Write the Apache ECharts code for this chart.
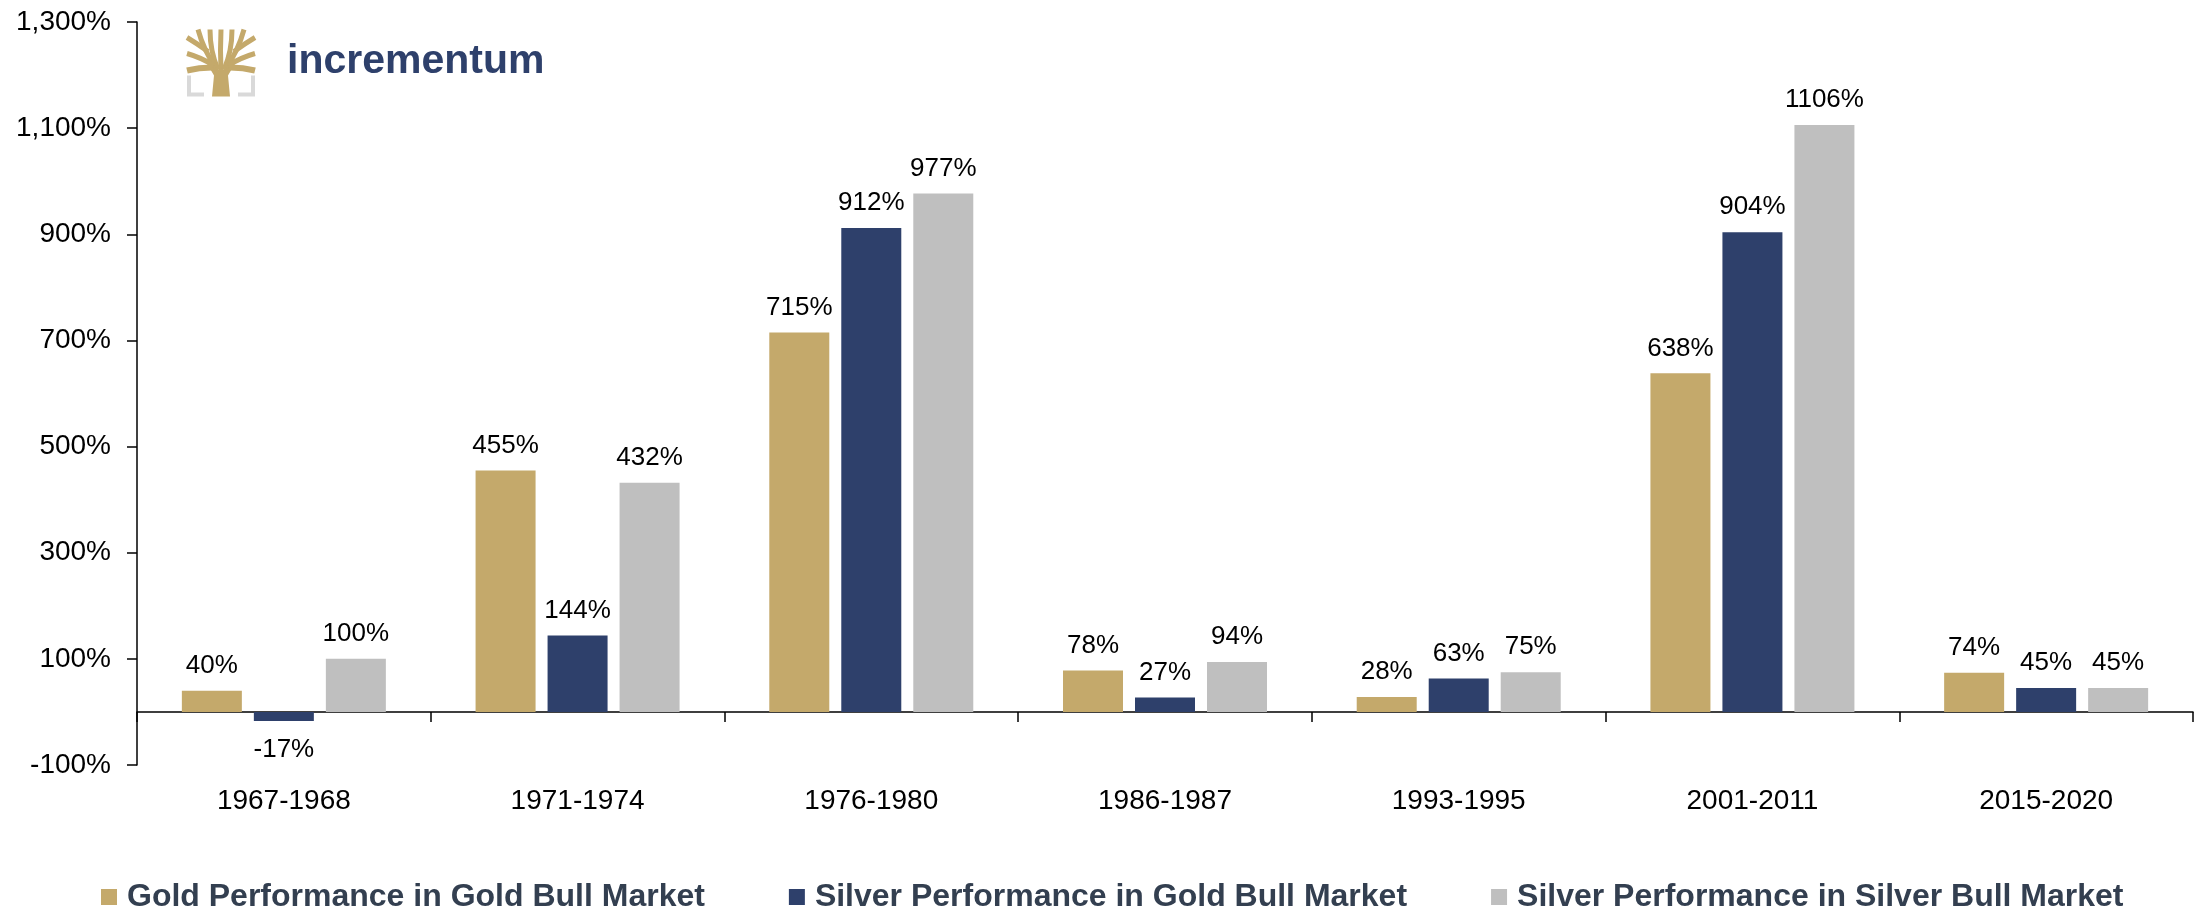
<!DOCTYPE html>
<html>
<head>
<meta charset="utf-8">
<title>Gold and silver bull markets</title>
<script src="https://cdn.jsdelivr.net/npm/echarts@6/dist/echarts.min.js"></script>
<style>
  html, body { margin: 0; padding: 0; background: #fff; }
  #chart { width: 2203px; height: 915px; }
</style>
</head>
<body>
<div id="chart"></div>
<script>
// periods of the bull markets
var periods = ['1967-1968', '1971-1974', '1976-1980', '1986-1987', '1993-1995', '2001-2011', '2015-2020']
// performance in percent
var goldInGoldBull = [40, 455, 715, 78, 28, 638, 74]
var silverInGoldBull = [-17, 144, 912, 27, 63, 904, 45]
var silverInSilverBull = [100, 432, 977, 94, 75, 1106, 45]
var seriesNames = ['Gold Performance in Gold Bull Market', 'Silver Performance in Gold Bull Market', 'Silver Performance in Silver Bull Market']
var colors = ['#C4A96B', '#2E406B', '#BFBFBF']

var font = "'Liberation Sans', Arial, sans-serif"

// negative bars get their label underneath
function toData (arr) {
  return arr.map(function (v) {
    return {
      value: v,
      label: v < 0 ? { position: 'bottom', distance: 16 } : { position: 'top', distance: 12 }
    }
  })
}

function makeSeries (name, arr, color) {
  return {
    name: name,
    type: 'bar',
    barWidth: 60,
    barGap: '20%',
    data: toData(arr),
    itemStyle: { color: color },
    label: {
      show: true,
      formatter: '{c}%',
      fontFamily: font,
      fontSize: 26,
      color: '#000'
    }
  }
}

var gold = '#C4A96B'
var grey = '#D9D9D9'

// incrementum logo (tree + text), drawn roughly
var logo = {
  type: 'group',
  left: 184,
  top: 27,
  children: [
    // grey brackets
    { type: 'polyline', shape: { points: [[2, 46], [2, 65], [17, 65]] }, style: { stroke: grey, lineWidth: 4, fill: null } },
    { type: 'polyline', shape: { points: [[66, 46], [66, 65], [51, 65]] }, style: { stroke: grey, lineWidth: 4, fill: null } },
    // trunk
    { type: 'polygon', shape: { points: [[25, 67], [27, 46], [20, 34], [34, 41], [48, 34], [41, 46], [43, 67]] }, style: { fill: gold } },
    // branches
    { type: 'bezierCurve', shape: { x1: 34, y1: 42, cpx1: 33, cpy1: 20, x2: 34, y2: 0 }, style: { stroke: gold, lineWidth: 5, fill: null } },
    { type: 'bezierCurve', shape: { x1: 31, y1: 40, cpx1: 23, cpy1: 22, x2: 23, y2: 0 }, style: { stroke: gold, lineWidth: 5, fill: null } },
    { type: 'bezierCurve', shape: { x1: 37, y1: 40, cpx1: 45, cpy1: 22, x2: 45, y2: 0 }, style: { stroke: gold, lineWidth: 5, fill: null } },
    { type: 'bezierCurve', shape: { x1: 29, y1: 38, cpx1: 17, cpy1: 22, x2: 11, y2: 0 }, style: { stroke: gold, lineWidth: 5, fill: null } },
    { type: 'bezierCurve', shape: { x1: 39, y1: 38, cpx1: 51, cpy1: 22, x2: 57, y2: 0 }, style: { stroke: gold, lineWidth: 5, fill: null } },
    { type: 'bezierCurve', shape: { x1: 27, y1: 36, cpx1: 14, cpy1: 28, x2: 0, y2: 24 }, style: { stroke: gold, lineWidth: 5, fill: null } },
    { type: 'bezierCurve', shape: { x1: 41, y1: 36, cpx1: 54, cpy1: 28, x2: 68, y2: 24 }, style: { stroke: gold, lineWidth: 5, fill: null } },
    { type: 'bezierCurve', shape: { x1: 25, y1: 38, cpx1: 12, cpy1: 38, x2: 0, y2: 41 }, style: { stroke: gold, lineWidth: 6, fill: null } },
    { type: 'bezierCurve', shape: { x1: 43, y1: 38, cpx1: 56, cpy1: 38, x2: 68, y2: 41 }, style: { stroke: gold, lineWidth: 6, fill: null } },
    { type: 'bezierCurve', shape: { x1: 21, y1: 22, cpx1: 10, cpy1: 14, x2: 0, y2: 8 }, style: { stroke: gold, lineWidth: 5, fill: null } },
    { type: 'bezierCurve', shape: { x1: 47, y1: 22, cpx1: 58, cpy1: 14, x2: 68, y2: 8 }, style: { stroke: gold, lineWidth: 5, fill: null } },
    // word mark
    { type: 'text', left: 100, top: 12, style: { text: 'incrementum', font: "bold 41px 'Liberation Sans', Arial, sans-serif", fill: '#2E406B' } }
  ]
}

var chart = echarts.init(document.getElementById('chart'))
chart.setOption({
  animation: false,
  backgroundColor: '#fff',
  color: colors,
  grid: { left: 137, right: 10, top: 22, bottom: 150, containLabel: false },
  legend: {
    left: 96,
    top: 876,
    icon: 'rect',
    itemWidth: 16,
    itemHeight: 16,
    itemGap: 84,
    textStyle: { fontFamily: font, fontSize: 32, fontWeight: 'bold', color: '#333F50', padding: [0, 0, 0, 5] },
    data: seriesNames
  },
  xAxis: {
    type: 'category',
    data: periods,
    axisLine: { onZero: true, lineStyle: { color: '#000', width: 1.5 } },
    axisTick: { show: true, length: 10, lineStyle: { color: '#000', width: 1.5 } },
    axisLabel: { margin: 22, fontFamily: font, fontSize: 28, color: '#000' }
  },
  yAxis: {
    type: 'value',
    min: -100,
    max: 1300,
    interval: 200,
    splitLine: { show: false },
    axisLine: { show: true, lineStyle: { color: '#000', width: 1.5 } },
    axisTick: { show: true, length: 10, lineStyle: { color: '#000', width: 1.5 } },
    axisLabel: {
      margin: 26,
      fontFamily: font,
      fontSize: 28,
      color: '#000',
      formatter: function (v) { return v.toLocaleString('en-US') + '%' }
    }
  },
  graphic: [logo],
  series: [
    makeSeries(seriesNames[0], goldInGoldBull, colors[0]),
    makeSeries(seriesNames[1], silverInGoldBull, colors[1]),
    makeSeries(seriesNames[2], silverInSilverBull, colors[2])
  ]
})
</script>
</body>
</html>
